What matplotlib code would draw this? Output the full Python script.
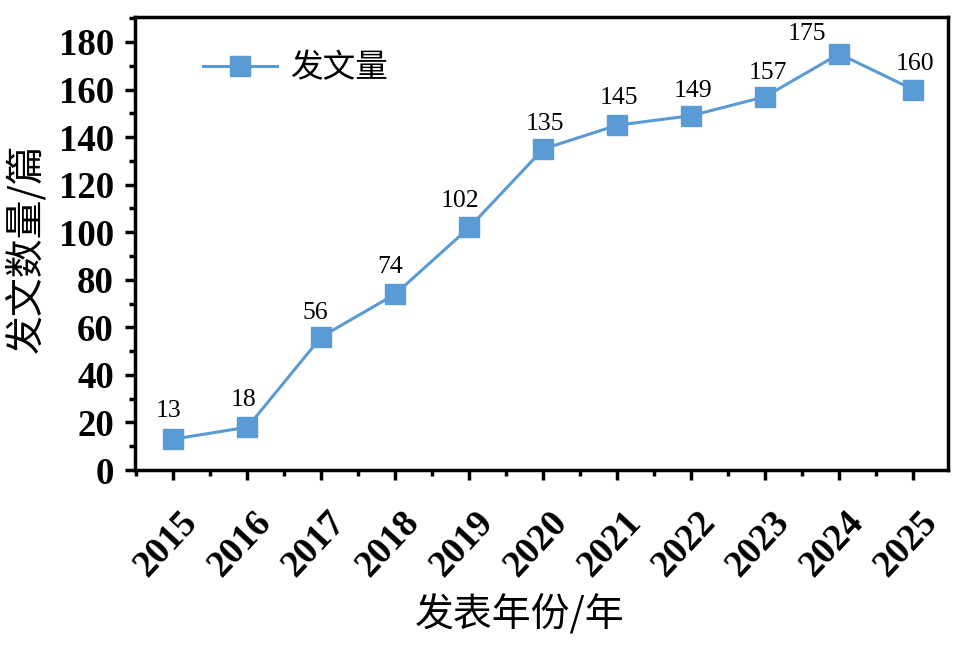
import matplotlib.pyplot as plt
import matplotlib.transforms as mtransforms
from matplotlib.ticker import MultipleLocator

years = [2015, 2016, 2017, 2018, 2019, 2020, 2021, 2022, 2023, 2024, 2025]
counts = [13, 18, 56, 74, 102, 135, 145, 149, 157, 175, 160]
# value label offsets from the marker, in pixels
label_dx = [-5, -4, -6, -5, -9, 2, 2, 2, 3, -32, 2]
label_dy = [28, 27, 24, 27, 26, 25, 27, 25, 24, 20, 26]

cjk = ['Noto Sans CJK SC', 'DejaVu Sans']
num_font = 'Liberation Serif'
blue = '#5B9BD5'

fig = plt.figure(figsize=(9.57, 6.53), dpi=100)
ax = fig.add_axes([0.141, 0.2802, 0.8495, 0.6938])

ax.plot(years, counts, color=blue, lw=2.2, marker='s', markersize=14,
        markerfacecolor=blue, markeredgecolor=blue, label='发文量')

for x, y, dx, dy in zip(years, counts, label_dx, label_dy):
    ax.annotate(str(y), (x, y), xytext=(dx, dy), textcoords='offset pixels',
                ha='center', va='center', fontsize=18.5, family=num_font)

ax.set_xlim(2014.48, 2025.47)
ax.set_ylim(0, 190.5)
ax.set_xticks(years)
ax.yaxis.set_major_locator(MultipleLocator(20))
ax.yaxis.set_minor_locator(MultipleLocator(10))
ax.xaxis.set_minor_locator(MultipleLocator(0.5))

for s in ax.spines.values():
    s.set_linewidth(2.5)
ax.tick_params(which='major', direction='out', length=7.2, width=2.5)
ax.tick_params(which='minor', direction='out', length=4.3, width=2.5)
ax.tick_params(axis='y', which='major', pad=8)
ax.tick_params(axis='x', which='major', pad=18)

shift = mtransforms.ScaledTranslation(-7 / 100, 0, fig.dpi_scale_trans)
for lab in ax.get_yticklabels():
    lab.set_fontfamily(num_font)
    lab.set_fontweight('bold')
    lab.set_fontsize(26.5)
for lab in ax.get_xticklabels():
    lab.set_fontfamily(num_font)
    lab.set_fontweight('bold')
    lab.set_fontsize(27)
    lab.set_rotation(47)
    lab.set_ha('center')
    lab.set_transform(lab.get_transform() + shift)

ax.set_ylabel('发文数量/篇', family=cjk, fontsize=28)
ax.set_xlabel('发表年份/年', family=cjk, fontsize=28)
ax.yaxis.set_label_coords(-0.133, 0.49)
ax.yaxis.label.set_va('center')
ax.xaxis.set_label_coords(0.4736, -0.32)
ax.xaxis.label.set_va('center')

leg = ax.legend(loc='center left', bbox_to_anchor=(0.0836, 0.886), frameon=False,
                prop={'family': cjk, 'size': 23.5}, handlelength=2.27,
                handletextpad=0.4, borderpad=0, borderaxespad=0)

plt.savefig('out.png', dpi=100)
